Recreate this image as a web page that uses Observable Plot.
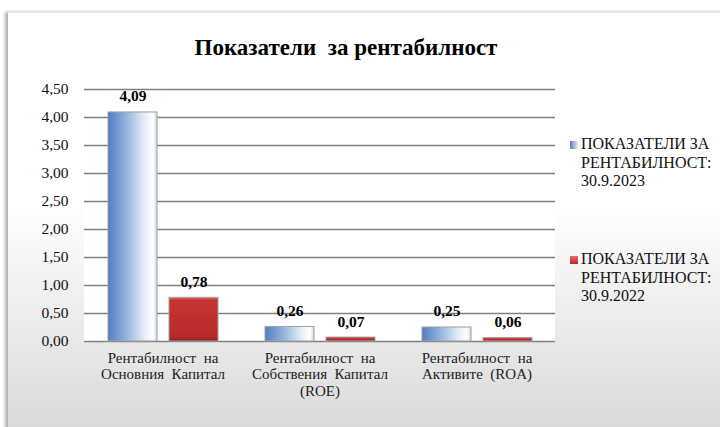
<!DOCTYPE html>
<html><head><meta charset="utf-8">
<script src="https://cdn.jsdelivr.net/npm/d3@7"></script>
<script src="https://cdn.jsdelivr.net/npm/@observablehq/plot@0.6"></script>
<style>
body{margin:0;background:#fff;}
#wrap{position:relative;width:720px;height:427px;overflow:hidden;}
#card{position:absolute;left:8px;top:12px;width:720px;height:420px;background:linear-gradient(to bottom,#ffffff 0px,#ffffff 190px,#d9d9d9 420px);border-top:1px solid #e6e6e6;box-shadow:-3px 0 3px #b0b0b0;}
#plotbg{position:absolute;left:84px;top:89px;width:471px;height:252px;background:#fff;}
#title{position:absolute;left:-14px;width:720px;top:35px;text-align:center;font-weight:bold;font-size:23px;color:#000;white-space:pre;}
#chart{position:absolute;left:0;top:0;}
.leg{position:absolute;left:570px;font-size:16px;line-height:18.5px;color:#111;}
.sw{position:absolute;left:0;top:6px;width:8px;height:8px;}
.lt{position:absolute;left:11px;top:0;white-space:nowrap;}
</style></head>
<body>
<div id="wrap">
  <div id="card"></div>
  <div id="plotbg"></div>
  <div id="title" style="font-family:'Liberation Serif'">Показатели  за рентабилност</div>
  <div id="chart"></div>
  <div id="legend"></div>
</div>
<script>
const categories = ["Рентабилност  на\nОсновния  Капитал", "Рентабилност  на\nСобствения  Капитал\n(ROE)", "Рентабилност  на\nАктивите  (ROA)"];
const seriesNames = ["ПОКАЗАТЕЛИ ЗА\nРЕНТАБИЛНОСТ:\n30.9.2023", "ПОКАЗАТЕЛИ ЗА\nРЕНТАБИЛНОСТ:\n30.9.2022"];
const values2023 = [4.09, 0.26, 0.25];
const values2022 = [0.78, 0.07, 0.06];
const yTicks = [0, 0.5, 1, 1.5, 2, 2.5, 3, 3.5, 4, 4.5];
const seriesFills = ["url(#gBlue)", "url(#gRed)"];

const data = [];
categories.forEach((c, i) => {
  data.push({cat: c, series: seriesNames[0], value: values2023[i]});
  data.push({cat: c, series: seriesNames[1], value: values2022[i]});
});
const fmt = v => v.toFixed(2).replace(".", ",");

const plot = Plot.plot({
  width: 720, height: 427,
  marginLeft: 84, marginRight: 165, marginTop: 89, marginBottom: 86,
  style: "background: transparent; font-family: 'Liberation Serif'; font-size: 14px; color: #000; overflow: visible;",
  fx: {domain: categories, padding: 0, label: null},
  x: {domain: seriesNames, paddingInner: 0.197, paddingOuter: 0.385, axis: null},
  y: {domain: [0, 4.5], label: null, ticks: yTicks},
  color: {domain: seriesNames, range: seriesFills},
  marks: [
    Plot.gridY(yTicks, {stroke: "#808080", strokeOpacity: 1, strokeWidth: 1.5}),
    Plot.axisY(yTicks, {tickSize: 0, tickPadding: 16, tickFormat: fmt, label: null, fontSize: 15.5, fill: "#111"}),
    Plot.axisFx({anchor: "bottom", tickSize: 0, tickPadding: 9, label: null, fontSize: 15, lineHeight: 1.13, fill: "#222", tickFormat: d => d}),
    Plot.barY(data, {fx: "cat", x: "series", y: "value", fill: "series", stroke: "#a0a0a0", strokeWidth: 1, inset: 0}),
    Plot.text(data, {fx: "cat", x: "series", y: "value", text: d => fmt(d.value), dy: -16, fontWeight: "bold", fontSize: 15.5})
  ]
});

const ns = "http://www.w3.org/2000/svg";
const defs = document.createElementNS(ns, "defs");
defs.innerHTML = `
<linearGradient id="gBlue" x1="0" y1="0" x2="1" y2="0">
  <stop offset="0" stop-color="#4f7fc0"/>
  <stop offset="0.35" stop-color="#8fb0dc"/>
  <stop offset="0.75" stop-color="#e6eef8"/>
  <stop offset="0.92" stop-color="#ffffff"/>
  <stop offset="1" stop-color="#c9d6e8"/>
</linearGradient>
<linearGradient id="gRed" x1="0" y1="0" x2="0" y2="1">
  <stop offset="0" stop-color="#e07070"/>
  <stop offset="0.06" stop-color="#c83434"/>
  <stop offset="0.9" stop-color="#b82a2a"/>
  <stop offset="1" stop-color="#8e1f1f"/>
</linearGradient>`;
plot.insertBefore(defs, plot.firstChild);
plot.querySelectorAll("text").forEach(t => t.setAttribute("font-family", "Liberation Serif"));
plot.querySelectorAll("g").forEach(g => { if (g.getAttribute("font-family")) g.setAttribute("font-family", "Liberation Serif"); });
document.getElementById("chart").appendChild(plot);

const legend = document.getElementById("legend");
const legTops = [135, 250];
seriesNames.forEach((s, i) => {
  const d = document.createElement("div");
  d.className = "leg";
  d.style.top = legTops[i] + "px";
  d.style.fontFamily = "'Liberation Serif'";
  const sw = document.createElement("div");
  sw.className = "sw";
  sw.style.background = i === 0 ? "linear-gradient(to right,#4f7fc0,#e6eef8)" : "linear-gradient(to bottom,#e07070,#b82a2a)";
  const t = document.createElement("div");
  t.className = "lt";
  t.innerHTML = s.split("\n").join("<br>");
  d.appendChild(sw); d.appendChild(t);
  legend.appendChild(d);
});
</script>
</body></html>
